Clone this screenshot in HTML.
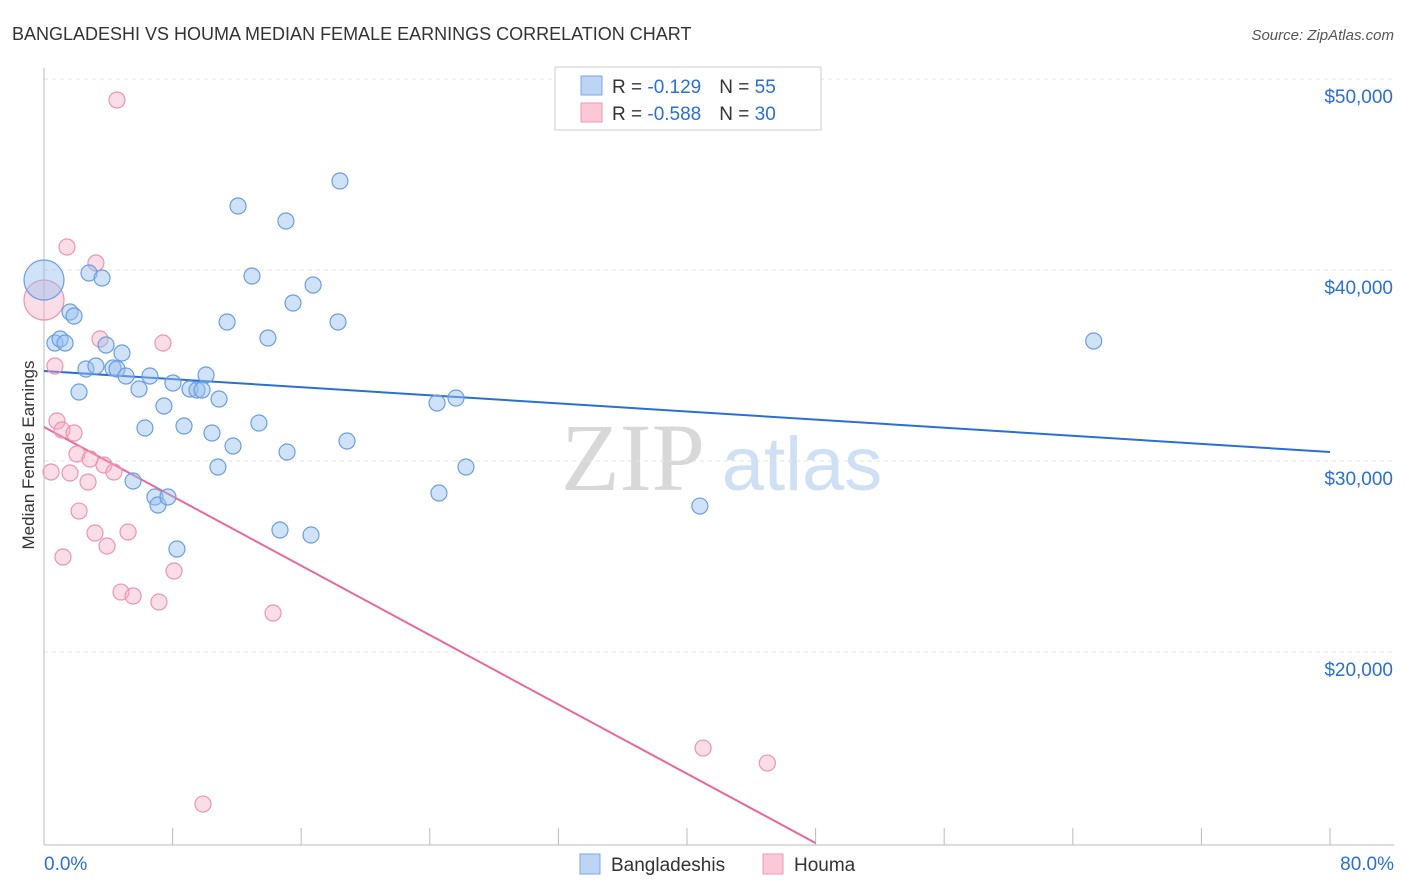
<!DOCTYPE html>
<html><head><meta charset="utf-8"><style>
body{margin:0;background:#fff;font-family:"Liberation Sans",sans-serif;}
svg{display:block}
</style></head><body>
<svg id="chart" width="1406" height="892">
<text x="12" y="40" font-size="18" fill="#333">BANGLADESHI VS HOUMA MEDIAN FEMALE EARNINGS CORRELATION CHART</text>
<text x="1394" y="40" font-size="15" fill="#555" font-style="italic" text-anchor="end">Source: ZipAtlas.com</text>
<text x="34" y="455" font-size="17" fill="#333" text-anchor="middle" transform="rotate(-90 34 455)">Median Female Earnings</text>
<g>
<text x="633" y="490" font-size="96" fill="#d8d8d8" text-anchor="middle" font-family="Liberation Serif,serif">ZIP</text>
<text x="802" y="490" font-size="76" fill="#cfe0f4" text-anchor="middle">atlas</text>
</g>
<g id="grid"></g><g id="axes"></g><g id="lines"></g><g id="pts"></g>
<g>
<rect x="555" y="67" width="266" height="63" fill="#fff" stroke="#ccc"/>
<rect x="581" y="76" width="21" height="19" fill="#bcd5f5" stroke="#7aa8e6"/>
<rect x="581" y="103" width="21" height="19" fill="#fac8d7" stroke="#ef9ab6"/>
<text x="612" y="93" font-size="19" fill="#333">R = <tspan fill="#2a6fd6"> -0.129</tspan><tspan dx="18" fill="#333">N = </tspan><tspan fill="#2a6fd6">55</tspan></text>
<text x="612" y="120" font-size="19" fill="#333">R = <tspan fill="#2a6fd6">-0.588</tspan><tspan dx="18" fill="#333">N = </tspan><tspan fill="#2a6fd6">30</tspan></text>
</g>
<g>
<rect x="580" y="854" width="20" height="20" fill="#bcd5f5" stroke="#7aa8e6"/>
<text x="611" y="871" font-size="19" fill="#333">Bangladeshis</text>
<rect x="763" y="854" width="20" height="20" fill="#fac8d7" stroke="#ef9ab6"/>
<text x="794" y="871" font-size="19" fill="#333">Houma</text>
</g>
</svg>
<script>
const yTicks=[20000,30000,40000,50000];
const yTickLabels=["$20,000","$30,000","$40,000","$50,000"];
const xTicks=[0,8,16,24,32,40,48,56,64,72,80];
const blueX=[0,0.68,1.0,1.31,1.62,1.87,2.8,3.61,2.61,3.23,2.18,3.86,4.29,4.54,4.85,5.1,5.54,5.91,6.28,6.59,6.9,7.09,7.46,7.71,8.02,8.27,8.71,9.08,9.52,9.83,10.08,10.45,10.89,10.82,11.39,11.76,12.07,12.94,13.37,13.93,14.68,15.05,15.12,15.49,16.61,16.74,18.29,18.41,18.85,24.45,24.57,25.63,26.25,40.8,65.3];
const blueY=[39476,36177,36386,36177,37800,37591,39842,39580,34816,34973,33611,36072,34868,34816,35653,34449,28951,33768,31726,34449,28114,27695,32878,28114,34083,25391,31831,33768,33716,33716,34501,31465,33245,29684,37277,30784,43350,39685,31988,36439,26386,42565,30470,38271,26124,39214,37277,44659,31046,33035,28323,33297,29684,27642,36282];
const pinkX=[0,4.54,1.43,3.23,0.68,3.48,7.4,0.81,1.12,1.87,0.44,1.62,2.05,2.74,2.86,3.73,4.35,2.18,3.17,3.92,5.23,1.18,4.79,5.54,7.15,8.09,14.25,41.0,45.0,9.89];
const pinkY=[38428,48900,41204,40366,34973,36386,36177,32093,31622,31465,29423,29370,30365,28899,30103,29789,29423,27380,26229,25548,26281,24972,23139,22930,22616,24239,22040,14971,14186,12039];
const blueTrend=[[0,34711],[80,30470]];
const pinkTrend=[[0,31779],[48,9997]];
const X=p=>44+p*16.075, Y=v=>79+(50000-v)*0.0191;
const NS="http://www.w3.org/2000/svg";
function mk(parent,tag,attrs){const e=document.createElementNS(NS,tag);for(const k in attrs)e.setAttribute(k,attrs[k]);document.getElementById(parent).appendChild(e);return e;}
yTicks.forEach((v,i)=>{
 const g=mk('grid','line',{x1:44,x2:1394,y1:Y(v),y2:Y(v),stroke:'#e3e3e3','stroke-dasharray':'4,4'});
 
 
 const t=mk('grid','text',{x:1393,y:Y(v)+24,'font-size':19,fill:'#2a6fd6','text-anchor':'end'});
 t.textContent=yTickLabels[i];
 
 
});
const ax=mk('axes','line',{x1:44,x2:44,y1:68,y2:845,stroke:'#bbb'});


const bx=mk('axes','line',{x1:44,x2:1394,y1:845,y2:845,stroke:'#bbb'});


xTicks.forEach(p=>{
 const t=mk('axes','line',{x1:X(p),x2:X(p),y1:828,y2:845,stroke:'#bbb'});
 
 
});
const l0=mk('axes','text',{x:44,y:870,'font-size':19,fill:'#2a6fd6'});l0.textContent='0.0%';


const l1=mk('axes','text',{x:1394,y:870,'font-size':19,fill:'#2a6fd6','text-anchor':'end'});l1.textContent='80.0%';


function dot(x,y,r,fill,stroke,name){const c=mk('pts','circle',{cx:X(x),cy:Y(y),r:r,fill:fill,stroke:stroke,'stroke-width':1.2});
 
 }
pinkX.forEach((x,i)=>dot(x,pinkY[i],i===0?20:8,'rgba(245,170,195,0.4)','#ec94b2','point-houma'));
blueX.forEach((x,i)=>dot(x,blueY[i],i===0?20:8,'rgba(150,190,240,0.45)','#6b9edf','point-bangladeshi'));
const bl=mk('lines','line',{x1:X(blueTrend[0][0]),y1:Y(blueTrend[0][1]),x2:X(blueTrend[1][0]),y2:Y(blueTrend[1][1]),stroke:'#2a6fd6','stroke-width':2});


const pl=mk('lines','line',{x1:X(pinkTrend[0][0]),y1:Y(pinkTrend[0][1]),x2:X(pinkTrend[1][0]),y2:Y(pinkTrend[1][1]),stroke:'#e8699a','stroke-width':2});


</script>
</body></html>
